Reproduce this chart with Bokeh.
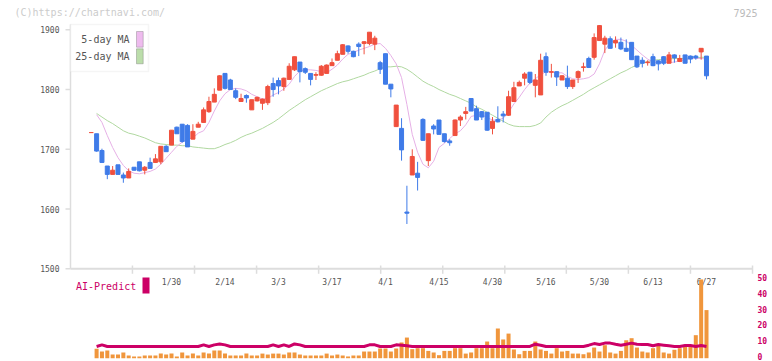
import math
from bokeh.plotting import figure
from bokeh.models import ColumnDataSource, Range1d, BoxAnnotation, Label
from bokeh.embed import file_html
from bokeh.resources import INLINE
from bokeh.core.properties import value

NAN = float("nan")

# ---------------- data ----------------
open_ = [1728, 1726, 1698, 1672, 1658, 1674, 1657, 1652, 1670, 1679,
         1665, 1678, 1678, 1679, 1705, 1707, 1737, 1742, 1740, 1717,
         1737, 1745, 1763, 1779, 1799, 1827, 1816, 1798, 1780, 1790,
         1766, 1781, 1777, 1778, 1810, 1815, 1805, 1817, 1833, 1846,
         1835, 1827, 1824, 1824, 1827, 1840, 1849, 1859, 1873, 1864,
         1876, 1877, 1877, 1876, 1845, 1860, 1809, 1738, 1735, 1595,
         1657, 1660, 1750, 1681, 1739, 1749, 1726, 1714, 1723, 1749,
         1760, 1785, 1768, 1763, 1762, 1735, 1750, 1759, 1757, 1780,
         1806, 1819, 1829, 1807, 1791, 1855, 1829, 1830, 1816, 1819,
         1805, 1820, 1837, 1852, 1854, 1882, 1876, 1885, 1878, 1879,
         1869, 1879, 1856, 1849, 1845, 1855, 1848, 1855, 1844, 1858,
         1847, 1858, 1856, 1856, 1863, 1856]
high = [1728, 1726, 1701, 1672, 1672, 1674, 1661, 1668, 1670, 1679,
        1672, 1686, 1692, 1705, 1707, 1732, 1738, 1742, 1742, 1742,
        1746, 1770, 1788, 1802, 1824, 1827, 1818, 1802, 1793, 1792,
        1783, 1788, 1785, 1808, 1820, 1820, 1820, 1844, 1855, 1846,
        1837, 1827, 1829, 1841, 1842, 1852, 1865, 1876, 1874, 1865,
        1879, 1881, 1896, 1890, 1848, 1860, 1809, 1774, 1752, 1639,
        1700, 1679, 1752, 1726, 1742, 1749, 1726, 1717, 1750, 1757,
        1771, 1785, 1773, 1764, 1762, 1754, 1772, 1764, 1798, 1813,
        1815, 1829, 1829, 1826, 1860, 1862, 1843, 1830, 1824, 1840,
        1816, 1832, 1845, 1855, 1894, 1908, 1890, 1889, 1889, 1887,
        1884, 1879, 1856, 1854, 1849, 1860, 1849, 1856, 1863, 1859,
        1858, 1858, 1857, 1858, 1869, 1856]
low = [1728, 1696, 1678, 1650, 1658, 1658, 1644, 1652, 1664, 1663,
       1658, 1668, 1677, 1675, 1696, 1707, 1726, 1711, 1704, 1717,
       1737, 1745, 1761, 1779, 1799, 1800, 1800, 1784, 1780, 1778,
       1766, 1780, 1766, 1774, 1788, 1792, 1798, 1816, 1831, 1812,
       1826, 1807, 1816, 1823, 1827, 1840, 1849, 1859, 1860, 1854,
       1856, 1859, 1874, 1866, 1826, 1809, 1787, 1738, 1681, 1575,
       1657, 1631, 1714, 1672, 1725, 1725, 1711, 1706, 1723, 1739,
       1750, 1764, 1749, 1749, 1731, 1725, 1745, 1745, 1756, 1780,
       1806, 1807, 1809, 1787, 1791, 1823, 1820, 1806, 1816, 1801,
       1801, 1811, 1830, 1836, 1850, 1882, 1861, 1869, 1870, 1866,
       1863, 1850, 1836, 1837, 1840, 1839, 1832, 1841, 1844, 1845,
       1846, 1844, 1844, 1850, 1850, 1817]
close = [1728, 1697, 1678, 1658, 1665, 1658, 1652, 1663, 1665, 1664,
         1670, 1668, 1684, 1705, 1696, 1732, 1726, 1713, 1704, 1730,
         1742, 1766, 1780, 1792, 1823, 1802, 1800, 1787, 1785, 1786,
         1783, 1787, 1784, 1805, 1800, 1806, 1819, 1839, 1855, 1830,
         1829, 1817, 1825, 1839, 1841, 1845, 1860, 1875, 1864, 1855,
         1872, 1880, 1896, 1886, 1834, 1809, 1801, 1774, 1699, 1593,
         1688, 1653, 1715, 1726, 1734, 1725, 1713, 1711, 1749, 1754,
         1763, 1764, 1749, 1754, 1732, 1747, 1746, 1756, 1788, 1803,
         1812, 1826, 1812, 1816, 1849, 1829, 1830, 1821, 1823, 1805,
         1816, 1830, 1838, 1837, 1887, 1907, 1886, 1869, 1882, 1868,
         1864, 1850, 1838, 1844, 1846, 1840, 1843, 1844, 1858, 1853,
         1852, 1844, 1851, 1853, 1869, 1823]

ma5 = [NAN,
       1758, 1745, 1723, 1703, 1686, 1673, 1664, 1660, 1659, 1661,
       1663, 1667, 1675, 1685, 1695, 1705, 1712, 1717, 1719, 1727,
       1731, 1745, 1764, 1781, 1793, 1800, 1802, 1801, 1798, 1792,
       1788, 1784, 1785, 1791, 1795, 1801, 1809, 1822, 1831, 1833,
       1833, 1832, 1830, 1828, 1834, 1841, 1851, 1859, 1862, 1866,
       1869, 1872, 1876, 1877, 1869, 1857, 1843, 1820, 1775, 1725,
       1695, 1675, 1669, 1680, 1703, 1710, 1718, 1726, 1731, 1741,
       1755, 1757, 1758, 1753, 1749, 1749, 1752, 1762, 1776, 1787,
       1800, 1811, 1818, 1825, 1830, 1829, 1828, 1828, 1822, 1818,
       1817, 1818, 1820, 1826, 1843, 1866, 1878, 1884, 1884, 1881,
       1874, 1866, 1858, 1851, 1846, 1845, 1845, 1845, 1846, 1848,
       1850, 1852, 1852, 1852, 1851]
ma25 = [NAN,
        1760, 1754, 1748, 1743, 1737, 1731, 1727, 1725, 1722, 1719,
        1715, 1711, 1709, 1708, 1707, 1707, 1706, 1706, 1704, 1703,
        1702, 1701, 1701, 1704, 1708, 1711, 1715, 1720, 1724, 1727,
        1731, 1735, 1740, 1745, 1751, 1758, 1765, 1771, 1777, 1783,
        1788, 1793, 1798, 1802, 1806, 1810, 1813, 1815, 1818, 1821,
        1824, 1828, 1831, 1835, 1838, 1838, 1839, 1838, 1834, 1828,
        1821, 1814, 1809, 1805, 1800, 1796, 1792, 1789, 1785, 1781,
        1777, 1771, 1767, 1762, 1757, 1752, 1747, 1742, 1739, 1738,
        1738, 1738, 1740, 1744, 1754, 1762, 1768, 1773, 1777, 1782,
        1787, 1792, 1798, 1803, 1808, 1813, 1818, 1823, 1828, 1832,
        1837, 1841, 1844, 1847, 1849, 1850, 1851, 1851, 1852, 1852,
        1852, 1853, 1853, 1854, 1854]

volume = [0,
          5.9, 4.2, 4.8, 2.3, 2.3, 3.6, 1.7, 1.1, 1.1, 1.7,
          1.7, 1.7, 2.9, 2.3, 2.9, 1.1, 3.6, 1.7, 2.9, 1.7,
          3.6, 2.9, 4.8, 4.8, 2.9, 1.7, 1.7, 1.7, 2.9, 1.7,
          1.7, 2.9, 2.3, 2.9, 2.9, 2.3, 3.6, 3.6, 2.3, 1.7,
          1.7, 1.7, 1.7, 2.9, 1.7, 2.3, 1.7, 1.1, 1.7, 1.7,
          4.2, 4.2, 4.2, 6.1, 6.1, 4.2, 6.1, 9.9, 13.0, 5.7,
          6.3, 6.3, 4.6, 3.6, 1.9, 4.6, 4.6, 6.3, 6.3, 2.9,
          3.6, 6.3, 6.3, 10.5, 6.3, 18.7, 11.8, 15.5, 5.5, 2.5,
          4.6, 4.6, 10.5, 5.5, 4.6, 2.9, 6.3, 4.2, 4.6, 2.9,
          2.9, 2.5, 3.6, 6.7, 4.2, 8.2, 3.6, 2.9, 4.6, 11.3,
          12.6, 6.7, 4.2, 3.6, 6.3, 7.8, 3.6, 2.9, 5.3, 6.3,
          7.4, 7.4, 14.5, 49.6, 30.3]

ai_predict = [NAN,
              7.4, 8.4, 7.4, 7.4, 7.4, 7.4, 7.4, 7.4, 7.4, 7.4,
              7.4, 7.4, 7.4, 7.4, 7.4, 7.4, 7.4, 7.4, 7.4, 7.4,
              8.4, 7.4, 8.4, 9.0, 8.4, 7.4, 7.4, 7.4, 7.4, 7.4,
              7.4, 7.4, 7.4, 8.4, 7.4, 8.4, 7.4, 9.0, 8.4, 7.4,
              7.4, 7.4, 7.4, 7.4, 7.4, 7.4, 7.4, 7.4, 7.4, 7.4,
              7.4, 8.4, 8.4, 7.4, 7.4, 7.4, 8.4, 8.2, 7.8, 7.4,
              7.4, 7.4, 7.4, 7.4, 7.4, 7.4, 7.4, 7.4, 7.4, 7.4,
              7.4, 7.4, 7.4, 7.4, 7.4, 7.4, 7.4, 7.4, 7.4, 7.4,
              7.4, 7.4, 8.8, 8.2, 7.4, 7.4, 7.4, 7.4, 7.4, 7.4,
              7.4, 7.4, 8.2, 9.2, 8.6, 9.5, 9.5, 8.8, 8.2, 8.8,
              9.5, 8.8, 8.6, 8.6, 7.8, 8.6, 8.2, 7.8, 7.4, 7.4,
              8.0, 8.0, 7.4, 8.0, 7.4]

date_labels = ["1/30", "2/14", "3/3", "3/17", "4/1", "4/15", "4/30", "5/16", "5/30", "6/13", "6/27"]
date_label_index = [15, 25, 35, 45, 55, 65, 75, 85, 95, 105, 115]
x_tick_index = [7.7, 19.3, 30.9, 42.5, 54.1, 65.7, 77.3, 88.8, 100.4, 112.0, 123.6]
price_ticks = [1500, 1600, 1700, 1800, 1900]
volume_ticks = [0, 10, 20, 30, 40, 50]

# ---------------- geometry (reference pixels -> data) ----------------
W, H = 772, 361
AX_L, AX_R, AX_T = 70, 752, 24
X0_PX, X_STEP = 90.75, 5.35
Y1900_PX, Y_PER = 29.3, 0.5975
V0_PX, V_PER = 357.7, 1.588


def px2x(px):
    return (px - X0_PX) / X_STEP


def py2y(py):
    return 1900 - (py - Y1900_PX) / Y_PER


def py2v(py):
    return (V0_PX - py) / V_PER


FONT = "DejaVu Sans Mono"
RED, BLUE = "#f0503e", "#3f7be8"
AXIS_GRAY = "#dddddd"
MAGENTA = "#cc0066"

p = figure(width=W, height=H, output_backend="svg", toolbar_location=None,
           x_range=Range1d(px2x(0), px2x(W)),
           y_range=Range1d(py2y(H), py2y(0)),
           x_axis_location=None, y_axis_location=None,
           min_border_left=0, min_border_right=0,
           min_border_top=0, min_border_bottom=0)
p.extra_y_ranges = {"vol": Range1d(py2v(H), py2v(0))}
p.outline_line_color = None
p.grid.visible = False
p.background_fill_color = "white"
p.border_fill_color = "white"

n_p = len(price_ticks)
n_t = len(x_tick_index)

# price axis (left): line, ticks and labels through the price scale
p.segment(x0=[px2x(AX_L)], y0=[price_ticks[0]], x1=[px2x(AX_L)], y1=[py2y(AX_T)],
          line_color=AXIS_GRAY, line_width=1.5)
p.segment(x0=[px2x(AX_L - 5)] * n_p, y0=price_ticks, x1=[px2x(AX_L)] * n_p, y1=price_ticks,
          line_color=AXIS_GRAY, line_width=1.5)
p.text(x=[px2x(AX_L - 11)] * n_p, y=price_ticks, text=[str(t) for t in price_ticks],
       text_font=value(FONT), text_font_size="8px", text_color="#555555",
       text_align="right", text_baseline="middle")

# date axis: line, ticks and labels
p.segment(x0=[px2x(AX_L)], y0=[price_ticks[0]], x1=[px2x(AX_R)], y1=[price_ticks[0]],
          line_color=AXIS_GRAY, line_width=2)
p.segment(x0=x_tick_index, y0=[py2y(265)] * n_t, x1=x_tick_index, y1=[py2y(273.3)] * n_t,
          line_color=AXIS_GRAY, line_width=1.5)
p.text(x=date_label_index, y=[py2y(282)] * len(date_labels), text=date_labels,
       text_font=value(FONT), text_font_size="8px", text_color="#555555",
       text_align="center", text_baseline="middle")

# volume axis labels (right)
p.text(x=[px2x(AX_R + 5)] * len(volume_ticks), y=volume_ticks, y_range_name="vol",
       text=[str(v) for v in volume_ticks], text_font=value(FONT), text_font_size="8px",
       text_font_style="bold", text_color=MAGENTA, text_align="left", text_baseline="middle",
       y_offset=-1.5)

# moving averages
idx = list(range(len(close)))
p.line(idx, ma25, line_color="#b0d8a0", line_width=1)
p.line(idx, ma5, line_color="#e6b0e6", line_width=1)

# candles
colors = [RED if c >= o else BLUE for o, c in zip(open_, close)]
src = ColumnDataSource(dict(x=idx, open=open_, high=high, low=low, close=close,
                            top=[max(o, c) for o, c in zip(open_, close)],
                            bottom=[min(o, c) for o, c in zip(open_, close)],
                            color=colors))
p.segment(x0="x", y0="low", x1="x", y1="high", line_color="color", line_width=1, source=src)
p.vbar(x="x", width=0.75, top="top", bottom="bottom", fill_color="color",
       line_color="color", line_width=1, source=src)

# volume + AI predict
p.vbar(x=idx, width=0.75, top=volume, bottom=0, y_range_name="vol",
       fill_color="#f0963c", line_color=None)
p.line(idx, ai_predict, y_range_name="vol", line_color=MAGENTA, line_width=3)

# legend box
p.add_layout(BoxAnnotation(left=px2x(70), right=px2x(148), top=py2y(24), bottom=py2y(71),
                           fill_color="white", fill_alpha=1, line_color=AXIS_GRAY, line_width=1.5))
p.add_layout(BoxAnnotation(left=px2x(136), right=px2x(142.7), top=py2y(31), bottom=py2y(46.7),
                           fill_color="#eebbee", fill_alpha=1, line_color="#555555", line_width=1))
p.add_layout(BoxAnnotation(left=px2x(136), right=px2x(142.7), top=py2y(48.3), bottom=py2y(63.3),
                           fill_color="#bbddaa", fill_alpha=1, line_color="#555555", line_width=1))
for txt, yy in (("5-day MA", 39), ("25-day MA", 56)):
    p.add_layout(Label(x=px2x(129), y=py2y(yy), text=txt, text_align="right",
                       text_baseline="middle", text_font=FONT, text_font_size="10px",
                       text_color="#555555"))

# watermark, code, AI-Predict marker
p.add_layout(Label(x=px2x(14), y=py2y(12.3), text="(C)https://chartnavi.com/",
                   text_align="left", text_baseline="middle", text_font=FONT,
                   text_font_size="10px", text_color="#cccccc"))
p.add_layout(Label(x=px2x(757), y=py2y(12.3), text="7925", text_align="right",
                   text_baseline="middle", text_font=FONT, text_font_size="10px",
                   text_color="#bbbbbb"))
p.add_layout(Label(x=px2x(75.5), y=py2y(286), text="AI-Predict", text_align="left",
                   text_baseline="middle", text_font=FONT, text_font_size="10px",
                   text_color=MAGENTA))
p.add_layout(BoxAnnotation(left=px2x(142), right=px2x(149), top=py2y(277), bottom=py2y(293),
                           fill_color=MAGENTA, fill_alpha=1, line_color=None))

open("out.html", "w").write(file_html(p, INLINE))
